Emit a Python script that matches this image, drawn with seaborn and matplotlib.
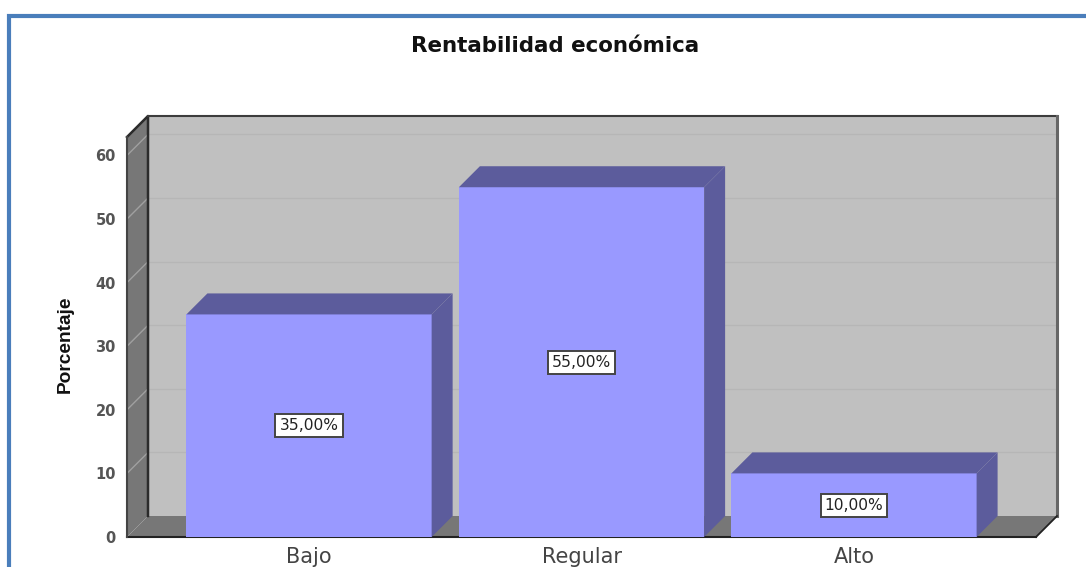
import matplotlib
matplotlib.use("Agg")
import matplotlib.pyplot as plt
import seaborn as sns
from matplotlib.lines import Line2D
from matplotlib.patches import Polygon, Rectangle

categories = ["Bajo", "Regular", "Alto"]
values = [35, 55, 10]
bar_labels = ["35,00%", "55,00%", "10,00%"]
y_ticks = [0, 10, 20, 30, 40, 50, 60]

W, H = 1086, 567
DEPTH = 21  # px, fake 3d depth
WALL = "#c0c0c0"
SIDE = "#777777"
BAR = "#9999ff"
BAR_DARK = "#5c5c9c"
YMAX = 62.9
XMIN, XMAX = -0.668, 2.668

sns.set_style("white")
fig = plt.figure(figsize=(W / 100, H / 100), dpi=100, facecolor="white")
ax = fig.add_axes([127 / W, (H - 537) / H, 909 / W, 400 / H])
ax.patch.set_alpha(0)

sns.barplot(x=categories, y=values, color=BAR, saturation=1, width=0.9,
            linewidth=0, zorder=3, ax=ax)
ax.set_xlim(XMIN, XMAX)
ax.set_ylim(0, YMAX)

# depth in data units
dx = DEPTH / 909 * (XMAX - XMIN)
dy = DEPTH / 400 * YMAX

def face(pts, color, z, ec="none", lw=0):
    ax.add_patch(Polygon(pts, closed=True, fc=color, ec=ec, lw=lw, zorder=z, clip_on=False))

# walls
face([(XMIN + dx, dy), (XMAX + dx, dy), (XMAX + dx, YMAX + dy), (XMIN + dx, YMAX + dy)], WALL, 0.1)
face([(XMIN, 0), (XMIN + dx, dy), (XMIN + dx, YMAX + dy), (XMIN, YMAX)], SIDE, 0.1)
face([(XMIN, 0), (XMAX, 0), (XMAX + dx, dy), (XMIN + dx, dy)], SIDE, 0.1)

# gridlines
for v in y_ticks[1:]:
    ax.plot([XMIN + dx, XMAX + dx], [v + dy, v + dy], color="#b6b6b6", lw=1, zorder=0.2, clip_on=False)
    ax.plot([XMIN, XMIN + dx], [v, v + dy], color="#a0a0a0", lw=1, zorder=0.2, clip_on=False)

# wall edges
edge = dict(zorder=0.3, clip_on=False, solid_capstyle="projecting")
ax.plot([XMIN, XMIN + dx, XMIN + dx], [YMAX, YMAX + dy, dy], color="#2b2b2b", lw=1.8, **edge)
ax.plot([XMIN + dx, XMAX + dx], [YMAX + dy, YMAX + dy], color="#3c3c3c", lw=1.5, **edge)
ax.plot([XMAX + dx, XMAX + dx], [YMAX + dy, dy], color="#666666", lw=2.2, **edge)
ax.plot([XMAX, XMAX + dx], [0, dy], color="#222222", lw=1.3, **edge)
ax.plot([XMIN, XMAX], [0, 0], color="#222222", lw=1.5, **edge)
ax.plot([XMIN, XMIN], [0, YMAX], color="#444444", lw=1.5, **edge)

# bar top and side faces
for bar in ax.patches:
    if not isinstance(bar, Rectangle):
        continue
    x0, x1, h = bar.get_x(), bar.get_x() + bar.get_width(), bar.get_height()
    face([(x0, h), (x1, h), (x1 + dx, h + dy), (x0 + dx, h + dy)], BAR_DARK, 3)
    face([(x1, 0), (x1 + dx, dy), (x1 + dx, h + dy), (x1, h)], BAR_DARK, 3)

ax.bar_label(ax.containers[0], labels=bar_labels, label_type="center", fontsize=11.2,
             family="DejaVu Sans", color="#222222", zorder=5,
             bbox=dict(boxstyle="square,pad=0.26", fc="white", ec="#444444", lw=1.4))

sns.despine(ax=ax, left=True, bottom=True, top=True, right=True)
ax.set_yticks(y_ticks)
ax.tick_params(axis="y", length=0, pad=8, labelsize=10.5, labelcolor="#555555")
for t in ax.get_yticklabels():
    t.set_fontweight("bold")
    t.set_family("DejaVu Sans")
ax.tick_params(axis="x", length=0, pad=7, labelsize=15, labelcolor="#444444")
for t in ax.get_xticklabels():
    t.set_family("DejaVu Sans")

ax.set_ylabel("Porcentaje", fontsize=13.8, fontweight="bold", color="#111111",
              family="Liberation Sans", va="center")
ax.yaxis.set_label_coords(-0.068, 0.4825)
ax.set_title("Rentabilidad económica", fontsize=15.4, fontweight="bold", color="#111111",
             family="DejaVu Sans", x=0.471, y=1.2275, va="center", pad=0)

# blue frame of the pasted picture
fig.add_artist(Line2D([9 / W, 9 / W, 1], [0, (H - 15.5) / H, (H - 15.5) / H],
                      color="#4a7ebb", lw=3, solid_joinstyle="miter"))

fig.savefig("out.png", dpi=100)
